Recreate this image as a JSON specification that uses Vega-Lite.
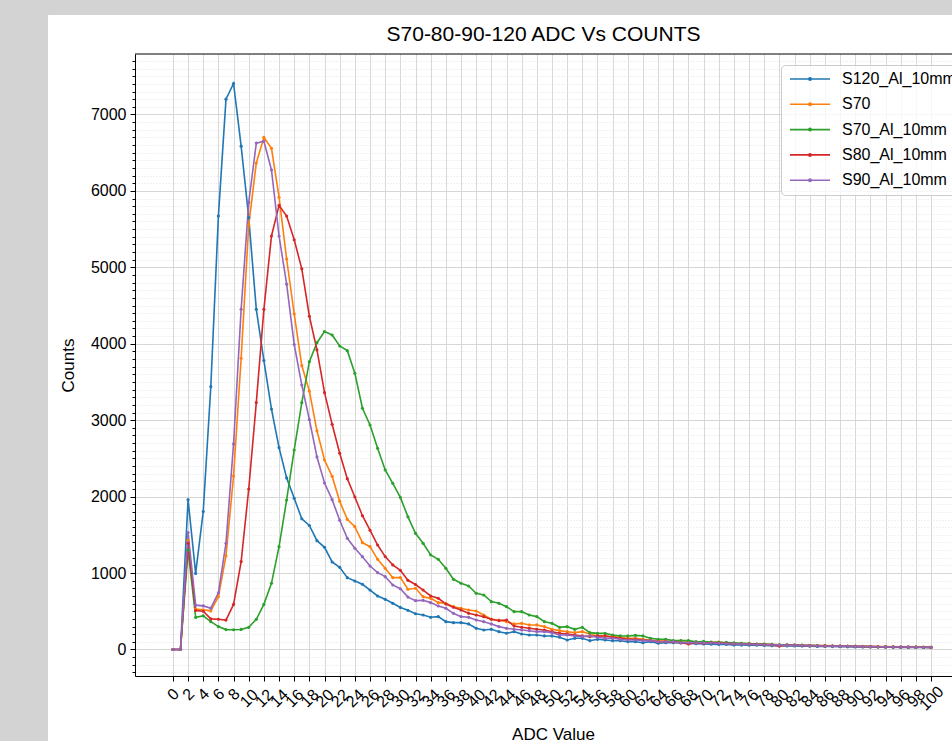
{
  "$schema": "https://vega.github.io/schema/vega-lite/v6.json",
  "width": 817,
  "height": 622,
  "autosize": {"type": "none"},
  "padding": {"left": 135, "top": 54, "right": 0, "bottom": 65},
  "background": "white",
  "title": {
    "text": "S70-80-90-120 ADC Vs COUNTS",
    "font": "Liberation Sans",
    "fontSize": 21,
    "fontWeight": "normal",
    "color": "black",
    "frame": "group",
    "baseline": "alphabetic",
    "offset": 0,
    "dy": 62
  },
  "config": {
    "view": {"stroke": null},
    "axis": {
      "labelFont": "Liberation Sans",
      "labelFontSize": 16,
      "labelColor": "black",
      "titleFont": "Liberation Sans",
      "titleFontSize": 17,
      "titleFontWeight": "normal",
      "titleColor": "black",
      "domainColor": "black",
      "domainWidth": 1,
      "tickColor": "black",
      "tickWidth": 1,
      "labelOverlap": false,
      "labelFlush": false,
      "labelBound": false
    }
  },
  "resolve": {"axis": {"x": "independent", "y": "independent"}},
  "layer": [
    {
      "data": {"values": [{}]},
      "mark": {"type": "rect", "color": "#d3d3d3"},
      "encoding": {
        "x": {"datum": -40, "type": "quantitative", "scale": {"domain": [-5, 102.76], "nice": false, "zero": false}, "axis": null},
        "x2": {"datum": -16.47},
        "y": {"datum": 8500, "type": "quantitative", "scale": {"domain": [-347, 7791], "nice": false, "zero": false}, "axis": null},
        "y2": {"datum": -1300}
      }
    },
    {
      "data": {"values": [{}]},
      "mark": {"type": "rect", "color": "#d3d3d3"},
      "encoding": {
        "x": {"datum": -40, "type": "quantitative", "scale": {"domain": [-5, 102.76], "nice": false, "zero": false}, "axis": null},
        "x2": {"datum": 130},
        "y": {"datum": 8500, "type": "quantitative", "scale": {"domain": [-347, 7791], "nice": false, "zero": false}, "axis": null},
        "y2": {"datum": 8301}
      }
    },
    {
      "data": {"values": [{}]},
      "mark": {"type": "rule", "color": "black", "strokeWidth": 1},
      "encoding": {
        "x": {"datum": -5, "type": "quantitative", "scale": {"domain": [-5, 102.76], "nice": false, "zero": false}, "axis": null},
        "x2": {"datum": 102.76},
        "y": {"datum": 7791, "type": "quantitative", "scale": {"domain": [-347, 7791], "nice": false, "zero": false}, "axis": null}
      }
    },
    {
      "data": {
        "values": [
          {"adc": 0, "S120_Al_10mm": 0, "S70": 0, "S70_Al_10mm": 0, "S80_Al_10mm": 0, "S90_Al_10mm": 0},
          {"adc": 1, "S120_Al_10mm": 0, "S70": 0, "S70_Al_10mm": 0, "S80_Al_10mm": 0, "S90_Al_10mm": 0},
          {"adc": 2, "S120_Al_10mm": 1960, "S70": 1430, "S70_Al_10mm": 1300, "S80_Al_10mm": 1390, "S90_Al_10mm": 1530},
          {"adc": 3, "S120_Al_10mm": 995, "S70": 530, "S70_Al_10mm": 420, "S80_Al_10mm": 510, "S90_Al_10mm": 580},
          {"adc": 4, "S120_Al_10mm": 1805, "S70": 520, "S70_Al_10mm": 440, "S80_Al_10mm": 500, "S90_Al_10mm": 570},
          {"adc": 5, "S120_Al_10mm": 3440, "S70": 505, "S70_Al_10mm": 364, "S80_Al_10mm": 400, "S90_Al_10mm": 540},
          {"adc": 6, "S120_Al_10mm": 5670, "S70": 690, "S70_Al_10mm": 300, "S80_Al_10mm": 395, "S90_Al_10mm": 740},
          {"adc": 7, "S120_Al_10mm": 7200, "S70": 1225, "S70_Al_10mm": 260, "S80_Al_10mm": 385, "S90_Al_10mm": 1390},
          {"adc": 8, "S120_Al_10mm": 7405, "S70": 2270, "S70_Al_10mm": 258, "S80_Al_10mm": 590, "S90_Al_10mm": 2690},
          {"adc": 9, "S120_Al_10mm": 6585, "S70": 3810, "S70_Al_10mm": 262, "S80_Al_10mm": 1150, "S90_Al_10mm": 4450},
          {"adc": 10, "S120_Al_10mm": 5650, "S70": 5550, "S70_Al_10mm": 290, "S80_Al_10mm": 2100, "S90_Al_10mm": 5850},
          {"adc": 11, "S120_Al_10mm": 4450, "S70": 6365, "S70_Al_10mm": 395, "S80_Al_10mm": 3230, "S90_Al_10mm": 6625},
          {"adc": 12, "S120_Al_10mm": 3780, "S70": 6700, "S70_Al_10mm": 590, "S80_Al_10mm": 4450, "S90_Al_10mm": 6650},
          {"adc": 13, "S120_Al_10mm": 3145, "S70": 6557, "S70_Al_10mm": 866, "S80_Al_10mm": 5410, "S90_Al_10mm": 6274},
          {"adc": 14, "S120_Al_10mm": 2640, "S70": 5917, "S70_Al_10mm": 1345, "S80_Al_10mm": 5810, "S90_Al_10mm": 5410},
          {"adc": 15, "S120_Al_10mm": 2245, "S70": 5109, "S70_Al_10mm": 1956, "S80_Al_10mm": 5670, "S90_Al_10mm": 4780},
          {"adc": 16, "S120_Al_10mm": 1978, "S70": 4390, "S70_Al_10mm": 2610, "S80_Al_10mm": 5360, "S90_Al_10mm": 3990},
          {"adc": 17, "S120_Al_10mm": 1710, "S70": 3715, "S70_Al_10mm": 3229, "S80_Al_10mm": 4980, "S90_Al_10mm": 3460},
          {"adc": 18, "S120_Al_10mm": 1622, "S70": 3380, "S70_Al_10mm": 3766, "S80_Al_10mm": 4360, "S90_Al_10mm": 3008},
          {"adc": 19, "S120_Al_10mm": 1424, "S70": 2861, "S70_Al_10mm": 4014, "S80_Al_10mm": 3920, "S90_Al_10mm": 2519},
          {"adc": 20, "S120_Al_10mm": 1337, "S70": 2479, "S70_Al_10mm": 4160, "S80_Al_10mm": 3360, "S90_Al_10mm": 2178},
          {"adc": 21, "S120_Al_10mm": 1145, "S70": 2265, "S70_Al_10mm": 4115, "S80_Al_10mm": 2946, "S90_Al_10mm": 1960},
          {"adc": 22, "S120_Al_10mm": 1075, "S70": 1938, "S70_Al_10mm": 3971, "S80_Al_10mm": 2567, "S90_Al_10mm": 1690},
          {"adc": 23, "S120_Al_10mm": 940, "S70": 1703, "S70_Al_10mm": 3910, "S80_Al_10mm": 2235, "S90_Al_10mm": 1455},
          {"adc": 24, "S120_Al_10mm": 896, "S70": 1607, "S70_Al_10mm": 3614, "S80_Al_10mm": 1995, "S90_Al_10mm": 1324},
          {"adc": 25, "S120_Al_10mm": 853, "S70": 1397, "S70_Al_10mm": 3156, "S80_Al_10mm": 1750, "S90_Al_10mm": 1214},
          {"adc": 26, "S120_Al_10mm": 778, "S70": 1345, "S70_Al_10mm": 2937, "S80_Al_10mm": 1560, "S90_Al_10mm": 1092},
          {"adc": 27, "S120_Al_10mm": 700, "S70": 1180, "S70_Al_10mm": 2632, "S80_Al_10mm": 1367, "S90_Al_10mm": 1005},
          {"adc": 28, "S120_Al_10mm": 656, "S70": 1062, "S70_Al_10mm": 2349, "S80_Al_10mm": 1215, "S90_Al_10mm": 953},
          {"adc": 29, "S120_Al_10mm": 604, "S70": 940, "S70_Al_10mm": 2174, "S80_Al_10mm": 1106, "S90_Al_10mm": 844},
          {"adc": 30, "S120_Al_10mm": 550, "S70": 942, "S70_Al_10mm": 1990, "S80_Al_10mm": 1035, "S90_Al_10mm": 795},
          {"adc": 31, "S120_Al_10mm": 512, "S70": 788, "S70_Al_10mm": 1735, "S80_Al_10mm": 905, "S90_Al_10mm": 685},
          {"adc": 32, "S120_Al_10mm": 468, "S70": 801, "S70_Al_10mm": 1520, "S80_Al_10mm": 850, "S90_Al_10mm": 639},
          {"adc": 33, "S120_Al_10mm": 451, "S70": 691, "S70_Al_10mm": 1389, "S80_Al_10mm": 778, "S90_Al_10mm": 643},
          {"adc": 34, "S120_Al_10mm": 421, "S70": 669, "S70_Al_10mm": 1236, "S80_Al_10mm": 700, "S90_Al_10mm": 613},
          {"adc": 35, "S120_Al_10mm": 429, "S70": 613, "S70_Al_10mm": 1180, "S80_Al_10mm": 670, "S90_Al_10mm": 569},
          {"adc": 36, "S120_Al_10mm": 364, "S70": 604, "S70_Al_10mm": 1062, "S80_Al_10mm": 595, "S90_Al_10mm": 539},
          {"adc": 37, "S120_Al_10mm": 351, "S70": 560, "S70_Al_10mm": 918, "S80_Al_10mm": 552, "S90_Al_10mm": 473},
          {"adc": 38, "S120_Al_10mm": 351, "S70": 539, "S70_Al_10mm": 866, "S80_Al_10mm": 517, "S90_Al_10mm": 430},
          {"adc": 39, "S120_Al_10mm": 334, "S70": 517, "S70_Al_10mm": 831, "S80_Al_10mm": 473, "S90_Al_10mm": 421},
          {"adc": 40, "S120_Al_10mm": 277, "S70": 504, "S70_Al_10mm": 735, "S80_Al_10mm": 451, "S90_Al_10mm": 386},
          {"adc": 41, "S120_Al_10mm": 255, "S70": 451, "S70_Al_10mm": 713, "S80_Al_10mm": 429, "S90_Al_10mm": 364},
          {"adc": 42, "S120_Al_10mm": 264, "S70": 395, "S70_Al_10mm": 626, "S80_Al_10mm": 395, "S90_Al_10mm": 334},
          {"adc": 43, "S120_Al_10mm": 233, "S70": 386, "S70_Al_10mm": 604, "S80_Al_10mm": 377, "S90_Al_10mm": 299},
          {"adc": 44, "S120_Al_10mm": 212, "S70": 364, "S70_Al_10mm": 560, "S80_Al_10mm": 386, "S90_Al_10mm": 277},
          {"adc": 45, "S120_Al_10mm": 233, "S70": 334, "S70_Al_10mm": 495, "S80_Al_10mm": 307, "S90_Al_10mm": 264},
          {"adc": 46, "S120_Al_10mm": 203, "S70": 342, "S70_Al_10mm": 495, "S80_Al_10mm": 290, "S90_Al_10mm": 255},
          {"adc": 47, "S120_Al_10mm": 190, "S70": 321, "S70_Al_10mm": 451, "S80_Al_10mm": 277, "S90_Al_10mm": 246},
          {"adc": 48, "S120_Al_10mm": 190, "S70": 321, "S70_Al_10mm": 430, "S80_Al_10mm": 264, "S90_Al_10mm": 233},
          {"adc": 49, "S120_Al_10mm": 177, "S70": 299, "S70_Al_10mm": 364, "S80_Al_10mm": 255, "S90_Al_10mm": 233},
          {"adc": 50, "S120_Al_10mm": 177, "S70": 264, "S70_Al_10mm": 342, "S80_Al_10mm": 233, "S90_Al_10mm": 220},
          {"adc": 51, "S120_Al_10mm": 160, "S70": 247, "S70_Al_10mm": 290, "S80_Al_10mm": 212, "S90_Al_10mm": 190},
          {"adc": 52, "S120_Al_10mm": 124, "S70": 233, "S70_Al_10mm": 299, "S80_Al_10mm": 203, "S90_Al_10mm": 190},
          {"adc": 53, "S120_Al_10mm": 146, "S70": 220, "S70_Al_10mm": 264, "S80_Al_10mm": 190, "S90_Al_10mm": 177},
          {"adc": 54, "S120_Al_10mm": 146, "S70": 233, "S70_Al_10mm": 290, "S80_Al_10mm": 177, "S90_Al_10mm": 168},
          {"adc": 55, "S120_Al_10mm": 115, "S70": 203, "S70_Al_10mm": 220, "S80_Al_10mm": 168, "S90_Al_10mm": 177},
          {"adc": 56, "S120_Al_10mm": 133, "S70": 177, "S70_Al_10mm": 211, "S80_Al_10mm": 177, "S90_Al_10mm": 159},
          {"adc": 57, "S120_Al_10mm": 124, "S70": 177, "S70_Al_10mm": 211, "S80_Al_10mm": 177, "S90_Al_10mm": 146},
          {"adc": 58, "S120_Al_10mm": 115, "S70": 168, "S70_Al_10mm": 190, "S80_Al_10mm": 160, "S90_Al_10mm": 146},
          {"adc": 59, "S120_Al_10mm": 115, "S70": 159, "S70_Al_10mm": 177, "S80_Al_10mm": 146, "S90_Al_10mm": 133},
          {"adc": 60, "S120_Al_10mm": 102, "S70": 146, "S70_Al_10mm": 177, "S80_Al_10mm": 133, "S90_Al_10mm": 124},
          {"adc": 61, "S120_Al_10mm": 102, "S70": 146, "S70_Al_10mm": 185, "S80_Al_10mm": 133, "S90_Al_10mm": 124},
          {"adc": 62, "S120_Al_10mm": 89, "S70": 133, "S70_Al_10mm": 177, "S80_Al_10mm": 124, "S90_Al_10mm": 116},
          {"adc": 63, "S120_Al_10mm": 102, "S70": 124, "S70_Al_10mm": 146, "S80_Al_10mm": 115, "S90_Al_10mm": 116},
          {"adc": 64, "S120_Al_10mm": 81, "S70": 115, "S70_Al_10mm": 133, "S80_Al_10mm": 102, "S90_Al_10mm": 102},
          {"adc": 65, "S120_Al_10mm": 89, "S70": 115, "S70_Al_10mm": 133, "S80_Al_10mm": 102, "S90_Al_10mm": 102},
          {"adc": 66, "S120_Al_10mm": 89, "S70": 102, "S70_Al_10mm": 116, "S80_Al_10mm": 98, "S90_Al_10mm": 102},
          {"adc": 67, "S120_Al_10mm": 85, "S70": 115, "S70_Al_10mm": 116, "S80_Al_10mm": 89, "S90_Al_10mm": 89},
          {"adc": 68, "S120_Al_10mm": 80, "S70": 110, "S70_Al_10mm": 116, "S80_Al_10mm": 72, "S90_Al_10mm": 89},
          {"adc": 69, "S120_Al_10mm": 75, "S70": 89, "S70_Al_10mm": 102, "S80_Al_10mm": 89, "S90_Al_10mm": 89},
          {"adc": 70, "S120_Al_10mm": 72, "S70": 95, "S70_Al_10mm": 105, "S80_Al_10mm": 80, "S90_Al_10mm": 86},
          {"adc": 71, "S120_Al_10mm": 70, "S70": 92, "S70_Al_10mm": 98, "S80_Al_10mm": 88, "S90_Al_10mm": 84},
          {"adc": 72, "S120_Al_10mm": 66, "S70": 98, "S70_Al_10mm": 95, "S80_Al_10mm": 84, "S90_Al_10mm": 80},
          {"adc": 73, "S120_Al_10mm": 65, "S70": 85, "S70_Al_10mm": 92, "S80_Al_10mm": 80, "S90_Al_10mm": 78},
          {"adc": 74, "S120_Al_10mm": 60, "S70": 80, "S70_Al_10mm": 86, "S80_Al_10mm": 74, "S90_Al_10mm": 74},
          {"adc": 75, "S120_Al_10mm": 58, "S70": 78, "S70_Al_10mm": 82, "S80_Al_10mm": 72, "S90_Al_10mm": 70},
          {"adc": 76, "S120_Al_10mm": 56, "S70": 74, "S70_Al_10mm": 76, "S80_Al_10mm": 70, "S90_Al_10mm": 68},
          {"adc": 77, "S120_Al_10mm": 55, "S70": 70, "S70_Al_10mm": 72, "S80_Al_10mm": 66, "S90_Al_10mm": 66},
          {"adc": 78, "S120_Al_10mm": 52, "S70": 68, "S70_Al_10mm": 70, "S80_Al_10mm": 64, "S90_Al_10mm": 62},
          {"adc": 79, "S120_Al_10mm": 50, "S70": 66, "S70_Al_10mm": 66, "S80_Al_10mm": 60, "S90_Al_10mm": 60},
          {"adc": 80, "S120_Al_10mm": 48, "S70": 62, "S70_Al_10mm": 62, "S80_Al_10mm": 44, "S90_Al_10mm": 58},
          {"adc": 81, "S120_Al_10mm": 47, "S70": 60, "S70_Al_10mm": 60, "S80_Al_10mm": 58, "S90_Al_10mm": 56},
          {"adc": 82, "S120_Al_10mm": 45, "S70": 58, "S70_Al_10mm": 58, "S80_Al_10mm": 56, "S90_Al_10mm": 54},
          {"adc": 83, "S120_Al_10mm": 44, "S70": 55, "S70_Al_10mm": 56, "S80_Al_10mm": 52, "S90_Al_10mm": 52},
          {"adc": 84, "S120_Al_10mm": 42, "S70": 54, "S70_Al_10mm": 52, "S80_Al_10mm": 50, "S90_Al_10mm": 50},
          {"adc": 85, "S120_Al_10mm": 40, "S70": 52, "S70_Al_10mm": 50, "S80_Al_10mm": 49, "S90_Al_10mm": 48},
          {"adc": 86, "S120_Al_10mm": 39, "S70": 50, "S70_Al_10mm": 48, "S80_Al_10mm": 47, "S90_Al_10mm": 46},
          {"adc": 87, "S120_Al_10mm": 38, "S70": 48, "S70_Al_10mm": 46, "S80_Al_10mm": 45, "S90_Al_10mm": 44},
          {"adc": 88, "S120_Al_10mm": 36, "S70": 46, "S70_Al_10mm": 44, "S80_Al_10mm": 43, "S90_Al_10mm": 43},
          {"adc": 89, "S120_Al_10mm": 35, "S70": 45, "S70_Al_10mm": 42, "S80_Al_10mm": 42, "S90_Al_10mm": 41},
          {"adc": 90, "S120_Al_10mm": 34, "S70": 43, "S70_Al_10mm": 40, "S80_Al_10mm": 41, "S90_Al_10mm": 40},
          {"adc": 91, "S120_Al_10mm": 33, "S70": 42, "S70_Al_10mm": 39, "S80_Al_10mm": 38, "S90_Al_10mm": 38},
          {"adc": 92, "S120_Al_10mm": 32, "S70": 40, "S70_Al_10mm": 37, "S80_Al_10mm": 37, "S90_Al_10mm": 37},
          {"adc": 93, "S120_Al_10mm": 31, "S70": 39, "S70_Al_10mm": 36, "S80_Al_10mm": 36, "S90_Al_10mm": 36},
          {"adc": 94, "S120_Al_10mm": 30, "S70": 38, "S70_Al_10mm": 35, "S80_Al_10mm": 35, "S90_Al_10mm": 34},
          {"adc": 95, "S120_Al_10mm": 29, "S70": 36, "S70_Al_10mm": 34, "S80_Al_10mm": 33, "S90_Al_10mm": 33},
          {"adc": 96, "S120_Al_10mm": 28, "S70": 35, "S70_Al_10mm": 33, "S80_Al_10mm": 32, "S90_Al_10mm": 32},
          {"adc": 97, "S120_Al_10mm": 27, "S70": 34, "S70_Al_10mm": 31, "S80_Al_10mm": 31, "S90_Al_10mm": 31},
          {"adc": 98, "S120_Al_10mm": 27, "S70": 33, "S70_Al_10mm": 30, "S80_Al_10mm": 30, "S90_Al_10mm": 30},
          {"adc": 99, "S120_Al_10mm": 26, "S70": 32, "S70_Al_10mm": 29, "S80_Al_10mm": 29, "S90_Al_10mm": 29},
          {"adc": 100, "S120_Al_10mm": 25, "S70": 30, "S70_Al_10mm": 28, "S80_Al_10mm": 28, "S90_Al_10mm": 28}
        ]
      },
      "transform": [
        {"fold": ["S120_Al_10mm", "S70", "S70_Al_10mm", "S80_Al_10mm", "S90_Al_10mm"], "as": ["series", "counts"]}
      ],
      "mark": {"type": "line", "strokeWidth": 1.6, "point": {"filled": true, "size": 10}},
      "encoding": {
        "x": {
          "field": "adc",
          "type": "quantitative",
          "scale": {"domain": [-5, 102.76], "nice": false, "zero": false},
          "axis": {
            "values": [0,2,4,6,8,10,12,14,16,18,20,22,24,26,28,30,32,34,36,38,40,42,44,46,48,50,52,54,56,58,60,62,64,66,68,70,72,74,76,78,80,82,84,86,88,90,92,94,96,98,100],
            "title": "ADC Value",
            "titleX": 418,
            "titleY": 58,
            "titleAlign": "center",
            "titleBaseline": "middle",
            "labelAngle": -45,
            "labelAlign": "center",
            "labelBaseline": "middle",
            "labelPadding": {"condition": {"test": "datum.value < 10", "value": 13}, "value": 17},
            "tickSize": 5,
            "grid": true,
            "gridColor": "#d8d8d8",
            "gridWidth": 1
          }
        },
        "y": {
          "field": "counts",
          "type": "quantitative",
          "scale": {"domain": [-347, 7791], "nice": false, "zero": false},
          "axis": {
            "values": [-300,-200,-100,0,100,200,300,400,500,600,700,800,900,1000,1100,1200,1300,1400,1500,1600,1700,1800,1900,2000,2100,2200,2300,2400,2500,2600,2700,2800,2900,3000,3100,3200,3300,3400,3500,3600,3700,3800,3900,4000,4100,4200,4300,4400,4500,4600,4700,4800,4900,5000,5100,5200,5300,5400,5500,5600,5700,5800,5900,6000,6100,6200,6300,6400,6500,6600,6700,6800,6900,7000,7100,7200,7300,7400,7500,7600,7700],
            "format": "d",
            "labelExpr": "datum.value % 1000 === 0 ? datum.label : ''",
            "title": "Counts",
            "titleX": -58,
            "titleY": 311,
            "titleAngle": 270,
            "titleAlign": "center",
            "titleBaseline": "bottom",
            "labelPadding": 4,
            "tickSize": {"condition": {"test": "datum.value % 1000 === 0", "value": 5}, "value": 3},
            "grid": true,
            "gridColor": {"condition": {"test": "datum.value % 1000 === 0", "value": "#d6d6d6"}, "value": "#e2e2e2"},
            "gridDash": {"condition": {"test": "datum.value % 1000 === 0", "value": []}, "value": [1, 2]},
            "gridWidth": 1
          }
        },
        "color": {
          "field": "series",
          "type": "nominal",
          "scale": {
            "domain": ["S120_Al_10mm", "S70", "S70_Al_10mm", "S80_Al_10mm", "S90_Al_10mm"],
            "range": ["#1f77b4", "#ff7f0e", "#2ca02c", "#d62728", "#9467bd"]
          },
          "legend": {
            "title": null,
            "orient": "none",
            "legendX": 646,
            "legendY": 11,
            "symbolType": "M-1,0H7M2.76,0A0.24,0.24,0,1,0,3.24,0A0.24,0.24,0,1,0,2.76,0",
            "symbolSize": 100,
            "symbolStrokeWidth": 1.6,
            "labelFont": "Liberation Sans",
            "labelFontSize": 16,
            "labelColor": "black",
            "labelOffset": 39,
            "labelLimit": 300,
            "rowPadding": 9.3,
            "padding": 6,
            "fillColor": "rgba(255,255,255,0.8)",
            "strokeColor": "#cccccc",
            "cornerRadius": 4
          }
        }
      }
    }
  ]
}
